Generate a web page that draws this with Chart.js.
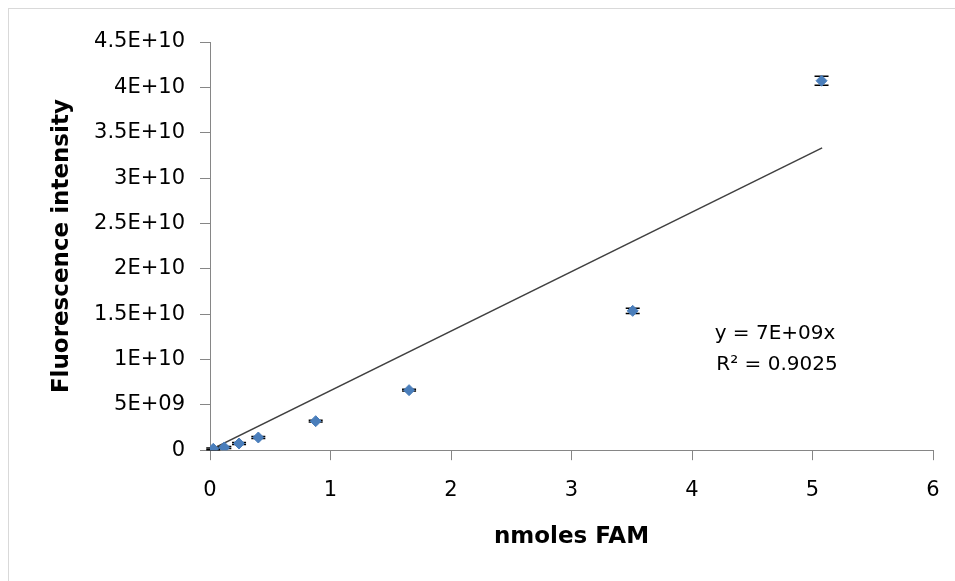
<!DOCTYPE html>
<html>
<head>
<meta charset="utf-8">
<script src="https://cdn.jsdelivr.net/npm/chart.js@4/dist/chart.umd.min.js"></script>
<style>
  html, body { margin: 0; padding: 0; background: #fff; }
  #frame { position: absolute; left: 8px; top: 8px; width: 980px; height: 600px; border: 1px solid #d9d9d9; }
  #wrap { position: absolute; left: 0; top: 0; width: 955px; height: 581px; }
</style>
</head>
<body>
<div id="frame"></div>
<div id="wrap"><canvas id="fam"></canvas></div>
<script>
// measured points
var nmoles = [0.027, 0.119, 0.241, 0.401, 0.877, 1.652, 3.508, 5.075];
var intensity = [1.5e8, 3.0e8, 7.4e8, 1.4e9, 3.2e9, 6.62e9, 1.536e10, 4.073e10];
var intensityErr = [1.0e8, 1.0e8, 1.0e8, 1.0e8, 1.0e8, 1.0e8, 2.8e8, 5.0e8];

// linear trendline through origin
var trendSlope = 6.56e9;
var trendX = [0, 5.08];

var yTickLabels = ['0', '5E+09', '1E+10', '1.5E+10', '2E+10', '2.5E+10', '3E+10', '3.5E+10', '4E+10', '4.5E+10'];
var xTickLabels = ['0', '1', '2', '3', '4', '5', '6'];

var font = "'DejaVu Sans', sans-serif";

// error bars go under the markers
var errorBars = {
	id: 'errorBars',
	beforeDatasetsDraw: function(chart) {
		var c = chart.ctx;
		var xs = chart.scales.x, ys = chart.scales.y;
		c.save();
		c.strokeStyle = '#000';
		c.lineWidth = 1.5;
		for (var i = 0; i < nmoles.length; i++) {
			var px = xs.getPixelForValue(nmoles[i]);
			var top = ys.getPixelForValue(intensity[i] + intensityErr[i]);
			var bot = ys.getPixelForValue(intensity[i] - intensityErr[i]);
			c.beginPath();
			c.moveTo(px, top); c.lineTo(px, bot);
			c.moveTo(px - 7, top); c.lineTo(px + 7, top);
			c.moveTo(px - 7, bot); c.lineTo(px + 7, bot);
			c.stroke();
		}
		c.restore();
	}
};

var equation = {
	id: 'equation',
	afterDraw: function(chart) {
		var c = chart.ctx;
		c.save();
		c.fillStyle = '#000';
		c.font = '20px ' + font;
		c.textAlign = 'center';
		c.textBaseline = 'middle';
		c.fillText('y = 7E+09x', 775, 334);
		c.fillText('R² = 0.9025', 777, 365);
		c.restore();
	}
};

var ctx = document.getElementById('fam').getContext('2d');
var chart = new Chart(ctx, {
	type: 'scatter',
	data: {
		datasets: [{
			label: 'FAM',
			data: nmoles.map(function(x, i) { return {x: x, y: intensity[i]}; }),
			backgroundColor: '#4a7ebb',
			borderColor: '#4a7ebb',
			pointStyle: 'rectRot',
			pointRadius: 5.5,
			order: 1
		}, {
			label: 'Linear',
			data: trendX.map(function(x) { return {x: x, y: x * trendSlope}; }),
			showLine: true,
			borderColor: '#404040',
			borderWidth: 1.5,
			pointRadius: 0,
			order: 2
		}]
	},
	options: {
		responsive: true,
		maintainAspectRatio: false,
		animation: false,
		layout: { padding: { left: 48, right: 22, top: 42, bottom: 30 } },
		plugins: { legend: { display: false }, tooltip: { enabled: false } },
		scales: {
			x: {
				type: 'linear',
				min: 0, max: 6,
				afterFit: function(s) { s.paddingRight = 0; s.paddingLeft = 0; },
				ticks: {
					stepSize: 1,
					color: '#000',
					font: { family: font, size: 21 },
					padding: 18,
					callback: function(v, i) { return xTickLabels[i]; }
				},
				grid: { drawOnChartArea: false, tickLength: 10, color: '#868686' },
				border: { color: '#868686', width: 1 },
				title: {
					display: true,
					text: 'nmoles FAM',
					color: '#000',
					font: { family: font, size: 23, weight: 'bold' },
					padding: { top: 2, bottom: 0 }
				}
			},
			y: {
				min: 0, max: 4.5e10,
				afterFit: function(s) { s.width = 162; },
				ticks: {
					stepSize: 5e9,
					color: '#000',
					font: { family: font, size: 21 },
					padding: 15,
					callback: function(v, i) { return yTickLabels[i]; }
				},
				grid: { drawOnChartArea: false, tickLength: 10, color: '#868686' },
				border: { color: '#868686', width: 1 },
				title: {
					display: true,
					text: 'Fluorescence intensity',
					color: '#000',
					font: { family: font, size: 23, weight: 'bold' },
					padding: { top: 0, bottom: 0 }
				}
			}
		}
	},
	plugins: [errorBars, equation]
});
</script>
</body>
</html>
